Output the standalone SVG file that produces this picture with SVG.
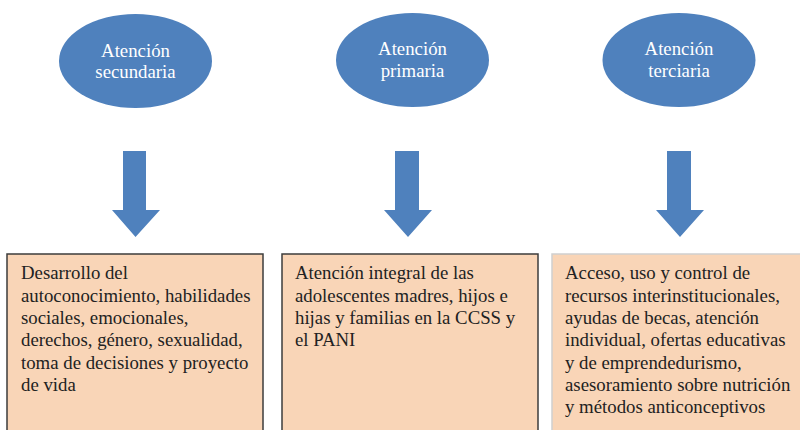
<svg xmlns="http://www.w3.org/2000/svg" width="800" height="430" viewBox="0 0 800 430">
<style>
.ell{fill:#4F81BD;}
.et{font-family:'Liberation Serif','Times New Roman',serif;font-size:18.8px;fill:#FFFFFF;text-anchor:middle;}
.arr{fill:#4F81BD;}
.box{fill:#F9D5B7;stroke:#3C3C3C;stroke-width:1.5;}
.box3{fill:#F9D5B7;stroke:#CFCFCF;stroke-width:1.5;}
.bt{font-family:'Liberation Serif','Times New Roman',serif;font-size:18.8px;fill:#222222;}
</style>
<rect width="800" height="430" fill="#FFFFFF"/>
<g id="n-secundaria">
<ellipse class="ell" cx="135.5" cy="61" rx="76.5" ry="47"/>
<text class="et" x="135.5" y="56.5">Atención</text>
<text class="et" x="135.5" y="78">secundaria</text>
</g>
<g id="n-primaria">
<ellipse class="ell" cx="412.5" cy="60" rx="76.5" ry="47"/>
<text class="et" x="412.5" y="54.5">Atención</text>
<text class="et" x="412.5" y="77">primaria</text>
</g>
<g id="n-terciaria">
<ellipse class="ell" cx="679" cy="60" rx="76.5" ry="47"/>
<text class="et" x="679" y="54.5">Atención</text>
<text class="et" x="679" y="77">terciaria</text>
</g>
<g id="connectors">
<polygon class="arr" points="123,151 146,151 146,210 160,210 135.5,237 112,210 123,210"/>
<polygon class="arr" points="395,151 419,151 419,210 432,210 408,237 384,210 395,210"/>
<polygon class="arr" points="667,151 691,151 691,210 704,210 680,237 656,210 667,210"/>
</g>
<g id="b-secundaria">
<rect class="box" x="7" y="254" width="256" height="190"/>
<text class="bt" x="21" y="279.3">Desarrollo del</text>
<text class="bt" x="21" y="301.6">autoconocimiento, habilidades</text>
<text class="bt" x="21" y="323.9">sociales, emocionales,</text>
<text class="bt" x="21" y="346.2">derechos, género, sexualidad,</text>
<text class="bt" x="21" y="368.5">toma de decisiones y proyecto</text>
<text class="bt" x="21" y="390.8">de vida</text>
</g>
<g id="b-primaria">
<rect class="box" x="282" y="254" width="256" height="190"/>
<text class="bt" x="295" y="279.3">Atención integral de las</text>
<text class="bt" x="295" y="301.6">adolescentes madres, hijos e</text>
<text class="bt" x="295" y="323.9">hijas y familias en la CCSS y</text>
<text class="bt" x="295" y="346.2">el PANI</text>
</g>
<g id="b-terciaria">
<rect class="box3" x="552" y="254" width="260" height="190"/>
<text class="bt" x="565" y="279.3">Acceso, uso y control de</text>
<text class="bt" x="565" y="301.6">recursos interinstitucionales,</text>
<text class="bt" x="565" y="323.9">ayudas de becas, atención</text>
<text class="bt" x="565" y="346.2">individual, ofertas educativas</text>
<text class="bt" x="565" y="368.5">y de emprendedurismo,</text>
<text class="bt" x="565" y="390.8">asesoramiento sobre nutrición</text>
<text class="bt" x="565" y="413.1">y métodos anticonceptivos</text>
</g>
</svg>
